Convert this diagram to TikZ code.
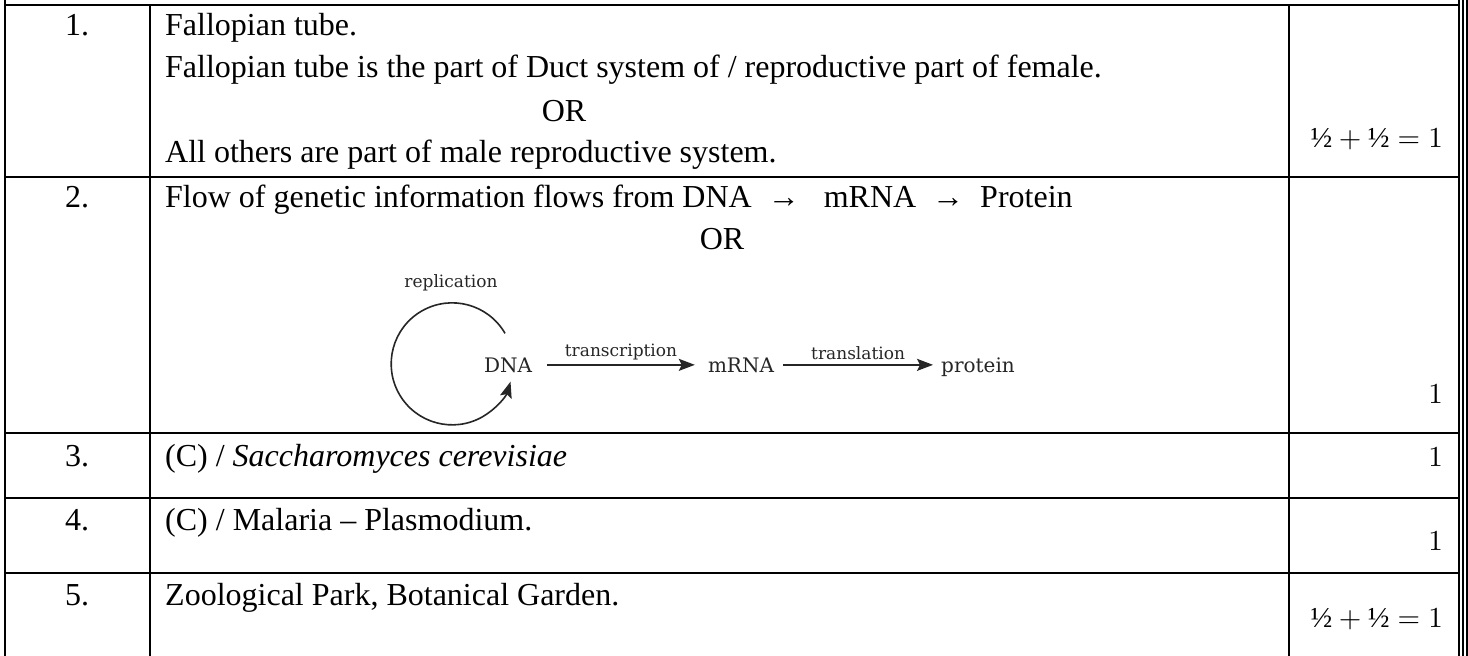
\documentclass[tikz,border=0pt]{standalone}
\usepackage{fontspec}
\setmainfont{Liberation Serif}
\newfontfamily\diafont{DejaVu Serif}
\usetikzlibrary{arrows.meta,calc}
\newcommand{\mkbig}[1]{\scalebox{2.9}{\fontsize{10}{12}\selectfont #1}}
\begin{document}
\begin{tikzpicture}[x=1pt,y=1pt,
  rule/.style={line width=2pt},
  trip/.style={line width=1.6pt},
  body/.style={anchor=base west, inner sep=0pt, font=\fontsize{32}{38}\selectfont},
  num/.style={anchor=base, inner sep=0pt, font=\fontsize{32}{38}\selectfont},
  mk/.style={anchor=base east, inner sep=0pt},
  dia/.style={anchor=base, inner sep=0pt, font=\diafont\fontsize{20}{24}\selectfont, text=black!85},
  dlab/.style={inner sep=0pt, font=\diafont\fontsize{17}{20}\selectfont, text=black!85},
  arr/.style={line width=1.8pt, draw=black!85, -{Stealth[length=16pt,width=12pt,inset=3pt]}}]
\useasboundingbox[fill=white] (0,0) rectangle (1468,-656);
% grid
\draw[rule] (5,0) -- (5,-656);
\draw[rule] (150,-5) -- (150,-656);
\draw[rule] (1289,-5) -- (1289,-656);
\draw[trip] (1459,0) -- (1459,-656);
\draw[trip] (1463,0) -- (1463,-656);
\draw[trip] (1467,0) -- (1467,-656);
\foreach \yy in {5,177,433,498,573}{\draw[rule] (4,-\yy) -- (1459,-\yy);}
% row 1
\node[num] (n1) at (77,-35) {1.};
\node[body] (t1a) at (165,-35) {Fallopian tube.};
\node[body] (t1b) at (165,-77) {Fallopian tube is the part of Duct system of / reproductive part of female.};
\node[num] (t1c) at (564,-121) {OR};
\node[body] (t1d) at (165,-162) {All others are part of male reproductive system.};
\node[mk] (m1) at (1443,-147) {\mkbig{$\mbox{½}+\mbox{½}=1$}};
% row 2
\node[num] (n2) at (77,-207) {2.};
\node[body] (t2a) at (165,-207) {Flow of genetic information flows from DNA\ \ →\ \ \ mRNA\ \ →\ \ Protein};
\node[num] (t2b) at (722,-249) {OR};
\node[mk] (m2) at (1443,-403) {\mkbig{$1$}};
% diagram
\node[dlab, anchor=base] (rep) at (451,-287) {replication};
\node[dia] (dna) at (508,-372) {DNA};
\node[dia] (mrna) at (741,-372) {mRNA};
\node[dia] (prot) at (978,-372) {protein};
\coordinate (cc) at ($(dna.east)+(-80,1)$);
\draw[arr, line width=1.6pt] ($(cc)+(30:61)$) arc[start angle=30, end angle=343, radius=61];
\draw[arr] ($(dna.east)+(15,0)$) -- node[dlab, anchor=south, above=4pt] (trs) {transcription} ($(mrna.west)+(-13,0)$);
\draw[arr] ($(mrna.east)+(9,0)$) -- node[dlab, anchor=south, above=4pt] (trl) {translation} ($(prot.west |- mrna.east)+(-8,0)$);
% row 3
\node[num] (n3) at (77,-466) {3.};
\node[body] (t3) at (165,-466) {(C) / \textit{Saccharomyces cerevisiae}};
\node[mk] (m3) at (1443,-466) {\mkbig{$1$}};
% row 4
\node[num] (n4) at (77,-530) {4.};
\node[body] (t4) at (165,-530) {(C) / Malaria – Plasmodium.};
\node[mk] (m4) at (1443,-550) {\mkbig{$1$}};
% row 5
\node[num] (n5) at (77,-605) {5.};
\node[body] (t5) at (165,-605) {Zoological Park, Botanical Garden.};
\node[mk] (m5) at (1443,-627) {\mkbig{$\mbox{½}+\mbox{½}=1$}};
\end{tikzpicture}
\end{document}
